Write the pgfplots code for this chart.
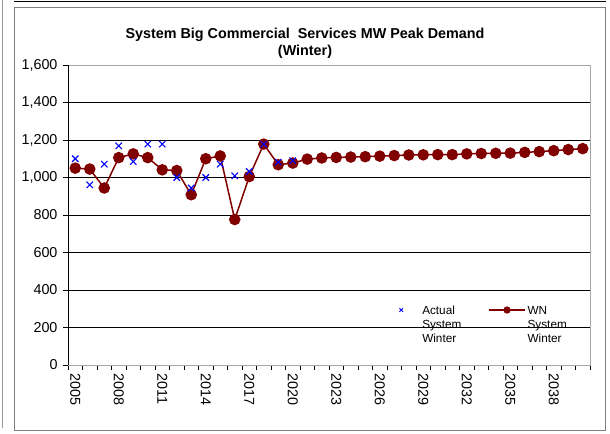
\documentclass[border=0pt]{standalone}
\usepackage{fontspec}
\setmainfont{Liberation Sans}
\usepackage{pgfplots}
\pgfplotsset{compat=1.18}
\definecolor{wnred}{RGB}{128,0,0}
\definecolor{actblue}{RGB}{0,0,255}
\pgfplotsset{
  wnlegend/.style={legend image code/.code={\draw[##1, mark size=3bp, line width=1.2bp, mark repeat=2, mark phase=2] plot coordinates {(0bp,0bp) (18bp,0bp) (36bp,0bp)};}},
  actlegend/.style={legend image code/.code={\path[draw=none] (0bp,0bp) -- (27bp,0bp); \draw[##1, mark size=2.5bp, line width=1bp] plot coordinates {(8bp,0bp)};}},
}
\begin{document}
\begin{tikzpicture}
\useasboundingbox (0,0) rectangle (610bp,434bp);
\draw[gray, line width=0.8bp] (14bp,4bp) rectangle (605bp,427bp);
\draw[black, line width=1bp] (14bp,432.5bp) -- (606bp,432.5bp);
\draw[gray!80, line width=0.8bp] (2.5bp,434bp) -- (2.5bp,6bp);
\node[font=\fontsize{14.4}{17}\selectfont\bfseries, align=center] at (305bp,391bp) {System Big Commercial\ \ Services MW Peak Demand\\(Winter)};
\begin{axis}[
  at={(68bp,69bp)}, anchor=south west,
  scale only axis, width=522bp, height=300bp,
  xmin=-0.5, xmax=35.5, ymin=0, ymax=1600,
  xtick={0,3,...,33},
  xticklabels={2005,2008,2011,2014,2017,2020,2023,2026,2029,2032,2035,2038},
  major x tick style={draw=none},
  minor xtick={-0.5,0.5,...,35.5},
  ytick={0,200,...,1600},
  tick align=outside, tick pos=left,
  major tick length=5bp, minor tick length=5bp,
  tick style={black, line width=0.8bp},
  ymajorgrids,
  grid style={black, line width=0.7bp},
  axis line style={gray!70, line width=0.8bp},
  /pgf/number format/assume math mode=true,
  /pgf/number format/1000 sep={,},
  yticklabel style={font=\fontsize{14.4}{17}\selectfont, xshift=-2bp},
  xticklabel style={font=\fontsize{14.4}{17}\selectfont, rotate=-90, anchor=west, xshift=0bp},
  reverse legend,
  legend columns=2,
  legend style={draw=none, fill=none, at={(0.617,0.216)}, anchor=north west,
     font=\fontsize{11.8}{14}\selectfont,
     /tikz/every even column/.style={column sep=25bp}},
  legend cell align=left,
]
\addplot[wnred, line width=1.5bp, mark=*, mark size=5bp,
   mark options={fill=wnred, draw=wnred}, wnlegend]
 coordinates {
 (0,1050) (1,1045) (2,944) (3,1106) (4,1126) (5,1106) (6,1041) (7,1037)
 (8,908) (9,1100) (10,1115) (11,776) (12,1005) (13,1178) (14,1068) (15,1077)
 (16,1098) (17,1104) (18,1107) (19,1109) (20,1111) (21,1114) (22,1117) (23,1120)
 (24,1121) (25,1122) (26,1122) (27,1126) (28,1128) (29,1129) (30,1130) (31,1134)
 (32,1138) (33,1143) (34,1149) (35,1154)
 };
\addlegendentry{\raisebox{0pt}[\height][0pt]{\begin{tabular}[t]{@{}l@{}}WN\\System\\Winter\end{tabular}}}
\addplot[only marks, actblue, mark=x, mark size=4.5bp, line width=1.1bp, actlegend]
 coordinates {
 (0,1100) (1,961) (2,1071) (3,1169) (4,1085) (5,1178) (6,1178) (7,1000)
 (8,944) (9,1000) (10,1071) (11,1009) (12,1032) (13,1178) (14,1082) (15,1090)
 };
\addlegendentry{\raisebox{0pt}[\height][0pt]{\begin{tabular}[t]{@{}l@{}}Actual\\System\\Winter\end{tabular}}}
\draw[black, line width=0.9bp] (rel axis cs:0,0) -- (rel axis cs:0,1);
\draw[black, line width=0.9bp] (rel axis cs:0,0) -- (rel axis cs:1,0);
\end{axis}
\end{tikzpicture}
\end{document}
